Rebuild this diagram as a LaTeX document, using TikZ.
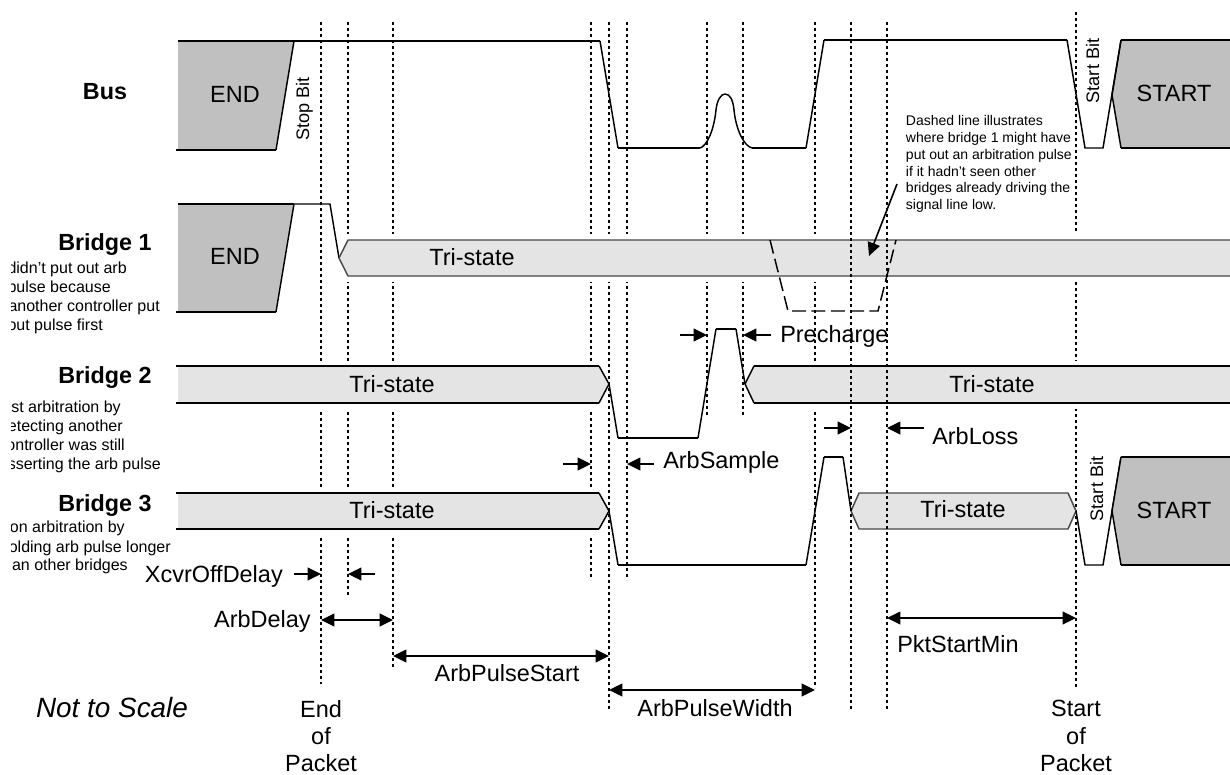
\documentclass[tikz,border=0pt]{standalone}
\usepackage{fontspec}
\setmainfont{Liberation Sans}
\usetikzlibrary{arrows.meta}
\definecolor{pktgray}{HTML}{C0C0C0}
\definecolor{tribg}{HTML}{E4E4E4}
\definecolor{tristroke}{HTML}{484848}
\tikzset{
  dotline/.style={black,line width=1.6pt,dash pattern=on 2.2pt off 2.3pt},
  heavy/.style={black,line width=1.5pt},
  slope/.style={black,line width=1.1pt,line join=round},
  halo/.style={fill=white,draw=none},
  pkt/.style={fill=pktgray,draw=none},
  tri/.style={fill=tribg,draw=none},
  triedge/.style={tristroke,line width=1.1pt,line join=round},
  ghost/.style={black,line width=1.1pt,dash pattern=on 10.5pt off 4pt},
  meas/.style={black,line width=1.2pt,-{Triangle[length=10pt,width=9.5pt]}},
  measb/.style={black,line width=1.2pt,{Triangle[length=10pt,width=9.5pt]}-{Triangle[length=10pt,width=9.5pt]}},
  lab/.style={font=\fontsize{17.6pt}{21.7pt}\selectfont,inner sep=0pt,anchor=base},
  labw/.style={lab,anchor=base west},
  labe/.style={lab,anchor=base east},
  stack/.style={font=\fontsize{17.6pt}{20.4pt}\selectfont,inner sep=0pt,anchor=center,align=center},
  head/.style={font=\fontsize{17.5pt}{20pt}\bfseries\selectfont,inner sep=0pt,anchor=base},
  tiny/.style={font=\fontsize{12pt}{14pt}\selectfont,inner sep=0pt,anchor=base east},
  bit/.style={font=\fontsize{13.6pt}{16pt}\selectfont,inner sep=0pt,anchor=base,rotate=90},
  note/.style={font=\fontsize{10.5pt}{12.65pt}\selectfont,inner sep=0pt,anchor=north west,align=left},
}
\begin{document}
\begin{tikzpicture}[x=0.75pt,y=-0.75pt]
\useasboundingbox (0,0) rectangle (1230,774);
% dotted time markers (under the bands)
\draw[dotline] (321,22) -- (321,684);
\draw[dotline] (348,22) -- (348,597);
\draw[dotline] (393,22) -- (393,667);
\draw[dotline] (591,22) -- (591,580);
\draw[dotline] (609,22) -- (609,709);
\draw[dotline] (627,22) -- (627,580);
\draw[dotline] (707,22) -- (707,415);
\draw[dotline] (743,22) -- (743,415);
\draw[dotline] (815,22) -- (815,688);
\draw[dotline] (1076,12) -- (1076,688);
% halos
\fill[halo] (345,234) rectangle (1230,282);
\fill[halo] (176,361) rectangle (600,409);
\fill[halo] (750,361) rectangle (1230,409);
\fill[halo] (176,487) rectangle (600,535);
% Bus
\fill[pkt] (178,41) -- (294,41) -- (276,150) -- (178,150) -- cycle;
\fill[pkt] (1230,40) -- (1121,40) -- (1112,95) -- (1121,148) -- (1230,148) -- cycle;
\draw[heavy] (178,41) -- (600,41);
\draw[heavy] (176,150) -- (276,150);
\draw[slope] (294,41) -- (276,150);
\draw[slope] (600,41) -- (618,148);
\draw[heavy] (618,148) -- (700,148);
\draw[slope] (700,148) .. controls (707,146) and (714,130) .. (716,110)
  .. controls (717,100) and (721,94) .. (725,94)
  .. controls (730,94) and (733,100) .. (734,110)
  .. controls (736,130) and (744,146) .. (752,148);
\draw[heavy] (752,148) -- (806,148);
\draw[slope] (806,148) -- (824,40);
\draw[heavy] (824,40) -- (1067,40);
\draw[slope] (1067,40) -- (1085,148) -- (1103,148) -- (1121,40);
\draw[heavy] (1230,40) -- (1121,40);
\draw[slope] (1121,40) -- (1112,95) -- (1121,148);
\draw[heavy] (1121,148) -- (1230,148);
% Bridge 1
\fill[pkt] (178,204) -- (294,204) -- (276,312) -- (178,312) -- cycle;
\draw[heavy] (178,204) -- (294,204);
\draw[heavy] (176,312) -- (276,312);
\draw[slope] (294,204) -- (276,312);
\draw[slope] (294,204) -- (330,204) -- (339,258);
\fill[tri] (1230,240) -- (348,240) -- (339,258) -- (348,276) -- (1230,276) -- cycle;
\draw[triedge] (1230,240) -- (348,240) -- (339,258) -- (348,276) -- (1230,276);
\draw[ghost] (770,240) -- (788,311) -- (878,311) -- (896,240);
% Bridge 2
\fill[tri] (178,366) -- (599,366) -- (609,384) -- (599,403) -- (178,403) -- cycle;
\draw[heavy] (176,366) -- (599,366);
\draw[heavy] (176,403) -- (599,403);
\draw[slope] (599,366) -- (609,384) -- (599,403);
\draw[slope] (609,384) -- (618,438);
\draw[heavy] (618,438) -- (698,438);
\draw[slope] (698,438) -- (716,329);
\draw[heavy] (716,329) -- (736,329);
\draw[slope] (736,329) -- (745,384);
\fill[tri] (1230,366) -- (754,366) -- (745,384) -- (754,403) -- (1230,403) -- cycle;
\draw[heavy] (1230,366) -- (754,366);
\draw[heavy] (1230,403) -- (754,403);
\draw[slope] (754,366) -- (745,384) -- (754,403);
% Bridge 3
\fill[tri] (178,493) -- (599,493) -- (609,511) -- (599,529) -- (178,529) -- cycle;
\draw[heavy] (176,493) -- (599,493);
\draw[heavy] (176,529) -- (599,529);
\draw[slope] (599,493) -- (609,511) -- (599,529);
\draw[slope] (609,511) -- (618,565);
\draw[heavy] (618,565) -- (806,565);
\draw[slope] (806,565) -- (824,457);
\draw[heavy] (824,457) -- (843,457);
\draw[slope] (843,457) -- (851,511);
\fill[tri] (851,511) -- (859,493) -- (1068,493) -- (1076,511) -- (1068,529) -- (859,529) -- cycle;
\draw[triedge] (851,511) -- (859,493) -- (1068,493) -- (1076,511) -- (1068,529) -- (859,529) -- cycle;
\draw[slope] (1076,511) -- (1085,565) -- (1103,565) -- (1121,457);
\fill[pkt] (1230,457) -- (1121,457) -- (1112,511) -- (1121,565) -- (1230,565) -- cycle;
\draw[heavy] (1230,457) -- (1121,457);
\draw[slope] (1121,457) -- (1112,511) -- (1121,565);
\draw[heavy] (1121,565) -- (1230,565);
% dotted markers that lie over the bands
\draw[dotline] (851,22) -- (851,709);
\draw[dotline] (887,22) -- (887,709);
% labels on the left
\node[head] (lbus) at (105,99) {Bus};
\node[head] (lb1) at (105,250) {Bridge 1};
\node[head] (lb2) at (105,383) {Bridge 2};
\node[head] (lb3) at (105,511) {Bridge 3};
\begin{scope}
\clip (11,250) rectangle (300,600);
\node[tiny] (n1a) at (127,273) {didn't put out arb};
\node[tiny] (n1b) at (111,292) {pulse because};
\node[tiny] (n1c) at (160,311) {another controller put};
\node[tiny] (n1d) at (103,330) {out pulse first};
\node[tiny] (n2a) at (121,412) {lost arbitration by};
\node[tiny] (n2b) at (123,431) {detecting another};
\node[tiny] (n2c) at (125,450) {controller was still};
\node[tiny] (n2d) at (161,469) {asserting the arb pulse};
\node[tiny] (n3a) at (125,532) {won arbitration by};
\node[tiny] (n3b) at (171,552) {holding arb pulse longer};
\node[tiny] (n3c) at (128,570) {than other bridges};
\end{scope}
% packet and band labels
\node[lab] (end1) at (235,102) {END};
\node[lab] (end2) at (235,264) {END};
\node[lab] (st1) at (1174,101) {START};
\node[lab] (st2) at (1174,518) {START};
\node[bit] (stop) at (309,109) {Stop Bit};
\node[bit] (sb1) at (1099,71) {Start Bit};
\node[bit] (sb2) at (1103,489) {Start Bit};
\node[lab] (t1) at (472,265) {Tri-state};
\node[lab] (t2) at (392,392) {Tri-state};
\node[lab] (t2r) at (992,392) {Tri-state};
\node[lab] (t3) at (392,518) {Tri-state};
\node[lab] (t3r) at (963,517) {Tri-state};
\node[note] (dn) at (905.7,115) {Dashed line illustrates\\where bridge 1 might have\\put out an arbitration pulse\\if it hadn't seen other\\bridges already driving the\\signal line low.};
% measurement labels
\node[labw] (lpre) at (780,342) {Precharge};
\node[labw] (lloss) at (932,444) {ArbLoss};
\node[labw] (lsamp) at (663,468) {ArbSample};
\node[labe] (lxcvr) at (283,582) {XcvrOffDelay};
\node[labe] (ldel) at (311,627) {ArbDelay};
\node[lab] (lps) at (507,681) {ArbPulseStart};
\node[lab] (lpw) at (715,716) {ArbPulseWidth};
\node[labw] (lpkt) at (897,652) {PktStartMin};
\node[lab,font=\fontsize{20.9pt}{24pt}\itshape\selectfont] (nts) at (112,717) {Not to Scale};
\node[stack] (eop) at (321,736) {End\\of\\Packet};
\node[stack] (sop) at (1076,736) {Start\\of\\Packet};
% measurement arrows
\coordinate (pa) at (680,335); \coordinate (pb) at (707,335);
\coordinate (pc) at (771,335); \coordinate (pd) at (743,335);
\draw[meas] (pa) -- (pb);
\draw[meas] (pc) -- (pd);
\coordinate (la) at (824,428); \coordinate (lb) at (851,428);
\coordinate (lc) at (924,428); \coordinate (ld) at (887,428);
\draw[meas] (la) -- (lb);
\draw[meas] (lc) -- (ld);
\coordinate (sa) at (563,464); \coordinate (sb) at (591,464);
\coordinate (sc) at (654,464); \coordinate (sd) at (627,464);
\draw[meas] (sa) -- (sb);
\draw[meas] (sc) -- (sd);
\coordinate (xa) at (294,574); \coordinate (xb) at (321,574);
\coordinate (xc) at (375,574); \coordinate (xd) at (348,574);
\draw[meas] (xa) -- (xb);
\draw[meas] (xc) -- (xd);
\coordinate (da) at (321,620); \coordinate (db) at (393,620);
\draw[measb] (da) -- (db);
\coordinate (sta) at (393,656); \coordinate (stb) at (609,656);
\draw[measb] (sta) -- (stb);
\coordinate (wa) at (609,690); \coordinate (wb) at (815,690);
\draw[measb] (wa) -- (wb);
\coordinate (ka) at (887,618); \coordinate (kb) at (1076,618);
\draw[measb] (ka) -- (kb);
\coordinate (na) at (897,184); \coordinate (nb) at (869,256);
\draw[meas] (na) -- (nb);
\end{tikzpicture}
\end{document}
